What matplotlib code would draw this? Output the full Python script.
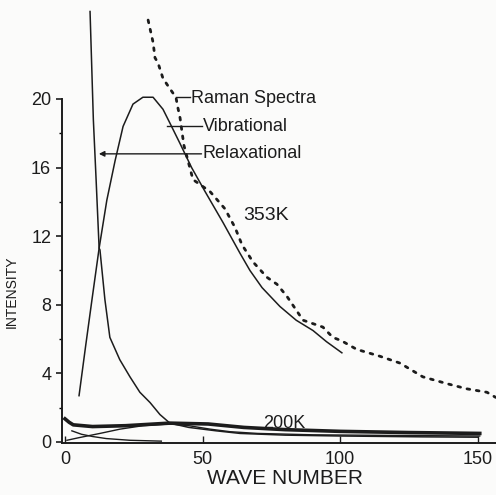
import matplotlib
matplotlib.use("Agg")
import matplotlib.pyplot as plt

plt.rcParams['font.family'] = ['Liberation Sans', 'DejaVu Sans']

# 353K curves (wave number, intensity)
raman_353_x = [30.2, 32.0, 32.7, 33.8, 35.6, 38.1, 40.3, 41.0, 41.8, 43.2, 46.5, 52.7,
               58.1, 61.8, 64.3, 68.3, 73.4, 77.0, 80.6, 86.5, 93.7, 97.3, 100.5,
               106.0, 114.4, 121.7, 130.0, 138.8, 146.0, 153.3, 156.5]
raman_353_y = [24.6, 23.3, 22.4, 22.1, 21.2, 20.6, 20.1, 19.5, 18.9, 17.3, 15.3, 14.6,
               13.6, 12.5, 11.5, 10.5, 9.6, 9.2, 8.5, 7.1, 6.7, 6.1, 5.9,
               5.4, 5.0, 4.6, 3.8, 3.4, 3.1, 2.9, 2.6]

vib_353_x = [5.1, 7.5, 9.8, 12.4, 15.2, 18.2, 21.1, 24.7, 28.3, 32.0, 35.6, 38.1,
             41.8, 46.0, 50.9, 57.4, 63.6, 67.2, 71.6, 78.1, 84.0, 90.1, 95.0, 100.6]
vib_353_y = [2.7, 5.6, 8.3, 11.3, 14.1, 16.4, 18.4, 19.7, 20.1, 20.1, 19.4, 18.6,
             17.4, 16.0, 14.6, 12.8, 11.0, 10.0, 9.0, 7.9, 7.1, 6.5, 5.85, 5.2]

relax_353_x = [9.1, 10.3, 11.3, 12.4, 12.7, 14.5, 16.3, 19.9, 23.6, 27.2, 30.9, 34.5,
               38.1, 45.0, 55.0, 63.6, 80.0, 100.0, 130.0, 150.0]
relax_353_y = [25.1, 18.8, 15.3, 11.3, 11.2, 8.3, 6.1, 4.8, 3.8, 2.9, 2.3, 1.6,
               1.1, 0.85, 0.65, 0.5, 0.4, 0.35, 0.3, 0.28]

# 200K curves
raman_200_x = [0.0, 1.5, 3.0, 10.0, 22.0, 38.0, 52.0, 65.0, 80.0, 100.0, 125.0, 150.7]
raman_200_y = [1.35, 1.15, 1.0, 0.9, 0.95, 1.1, 1.05, 0.85, 0.72, 0.62, 0.55, 0.5]

vib_200_x = [0.7, 5.0, 12.7, 20.0, 28.3, 38.0, 45.0, 52.7, 60.0, 70.0, 90.0, 120.0, 150.7]
vib_200_y = [0.1, 0.25, 0.5, 0.75, 0.95, 1.05, 0.95, 0.75, 0.6, 0.5, 0.42, 0.38, 0.35]

relax_200_x = [2.5, 6.0, 10.0, 15.0, 23.6, 35.0]
relax_200_y = [0.65, 0.45, 0.32, 0.2, 0.1, 0.05]

y_ticks = [0, 4, 8, 12, 16, 20]
x_ticks = [0, 50, 100, 150]

ink = '#1c1c1c'

fig = plt.figure(figsize=(4.96, 4.95), dpi=100)
fig.patch.set_facecolor('#fbfbfa')
ax = fig.add_axes([0.1255, 0.105, 0.8745, 0.895])
ax.set_facecolor('#fbfbfa')

ax.plot(relax_353_x, relax_353_y, color=ink, lw=1.1)
ax.plot(vib_353_x, vib_353_y, color=ink, lw=1.1)
ax.plot(raman_353_x, raman_353_y, color=ink, lw=2.0, ls=(0, (1.0, 2.4)),
        dash_capstyle='round')

ax.plot(raman_200_x, raman_200_y, color=ink, lw=2.6)
ax.plot(vib_200_x, vib_200_y, color=ink, lw=1.0)
ax.plot(relax_200_x, relax_200_y, color=ink, lw=1.0)

# labels and leaders
ax.plot([40.3, 45.3], [20.1, 20.1], color=ink, lw=1.0)
ax.text(45.8, 20.0, 'Raman Spectra', fontsize=13, va='center', ha='left', color=ink)
ax.plot([37.0, 49.6], [18.4, 18.4], color=ink, lw=1.0)
ax.text(50.1, 18.4, 'Vibrational', fontsize=13, va='center', ha='left', color=ink)
ax.annotate('', xy=(12.3, 16.8), xytext=(49.6, 16.8),
            arrowprops=dict(arrowstyle='-|>', color=ink, lw=1.0, mutation_scale=8,
                            shrinkA=0, shrinkB=0))
ax.text(50.1, 16.8, 'Relaxational', fontsize=13, va='center', ha='left', color=ink)
ax.text(64.7, 13.2, '353K', fontsize=14, va='center', ha='left', color=ink)
ax.text(71.9, 1.05, '200K', fontsize=13, va='center', ha='left', color=ink)

ax.set_xlim(-1, 156.6)
ax.set_ylim(-0.06, 25.77)
ax.spines['top'].set_visible(False)
ax.spines['right'].set_visible(False)
ax.spines['left'].set_bounds(-0.06, 20)
for s in ['left', 'bottom']:
    ax.spines[s].set_linewidth(1.4)
    ax.spines[s].set_color(ink)

ax.set_yticks(y_ticks)
ax.set_yticks([2, 6, 10, 14, 18], minor=True)
ax.set_xticks(x_ticks)
ax.tick_params(axis='y', direction='out', length=4, width=1.2, pad=4,
               labelsize=13, colors=ink)
ax.tick_params(axis='y', which='minor', direction='out', length=2, width=1.0)
ax.tick_params(axis='x', direction='in', length=5, width=1.0, pad=6,
               labelsize=13, colors=ink)

ax.set_xlabel('WAVE NUMBER', fontsize=15, color=ink, va='center')
ax.xaxis.set_label_coords(0.514, -0.081)
ax.set_ylabel('INTENSITY', fontsize=10, color=ink)
ax.yaxis.set_label_coords(-0.0997, 0.341)

fig.savefig('out.png', dpi=100, facecolor=fig.get_facecolor())
